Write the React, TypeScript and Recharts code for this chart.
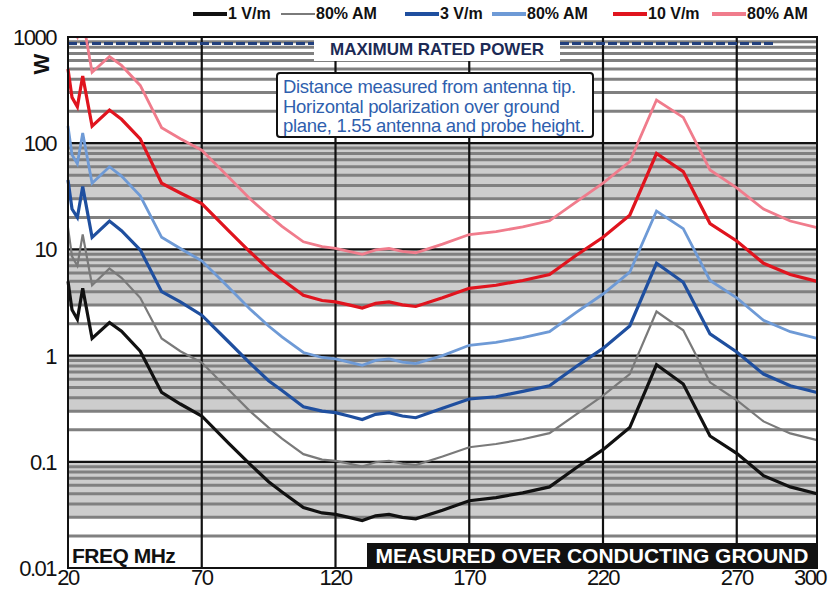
import React from 'react';
import { LineChart, Line, XAxis, YAxis, ReferenceLine, ReferenceArea } from 'recharts';

// frequency points (MHz) shared by all curves
const FREQ = [20, 21.5, 23.5, 25.5, 29, 35.5, 40, 47, 55, 62, 70, 80, 88, 95, 100, 108, 115, 120, 125, 130, 135, 140, 145, 150, 160, 170, 180, 190, 200, 210, 220, 230, 240, 250, 260, 270, 280, 290, 300];

// required power (W) for each field level
const V1 = [5, 2.7, 2.2, 4.3, 1.45, 2.05, 1.7, 1.1, 0.45, 0.35, 0.27, 0.15, 0.095, 0.065, 0.052, 0.037, 0.033, 0.032, 0.03, 0.028, 0.031, 0.032, 0.03, 0.029, 0.035, 0.043, 0.046, 0.051, 0.058, 0.088, 0.13, 0.21, 0.82, 0.54, 0.175, 0.12, 0.074, 0.058, 0.05];
const V1_AM = [16, 8.6, 7, 13.8, 4.6, 6.6, 5.4, 3.5, 1.45, 1.1, 0.86, 0.48, 0.3, 0.21, 0.165, 0.118, 0.105, 0.102, 0.096, 0.09, 0.099, 0.102, 0.096, 0.093, 0.112, 0.137, 0.147, 0.163, 0.186, 0.28, 0.42, 0.67, 2.6, 1.73, 0.56, 0.38, 0.24, 0.185, 0.16];
const V3 = [45, 24, 20, 39, 13, 18.5, 15, 9.9, 4, 3.2, 2.4, 1.35, 0.85, 0.58, 0.47, 0.33, 0.3, 0.29, 0.27, 0.25, 0.28, 0.29, 0.27, 0.26, 0.32, 0.39, 0.41, 0.46, 0.52, 0.79, 1.17, 1.9, 7.4, 4.9, 1.6, 1.08, 0.67, 0.52, 0.45];
const V3_AM = [145, 78, 64, 125, 42, 60, 49, 32, 13, 10.2, 7.8, 4.4, 2.75, 1.9, 1.5, 1.07, 0.96, 0.93, 0.87, 0.81, 0.9, 0.93, 0.87, 0.84, 1.0, 1.25, 1.33, 1.48, 1.68, 2.55, 3.8, 6.1, 23, 15.7, 5.1, 3.5, 2.15, 1.68, 1.45];
const V10 = [500, 270, 220, 430, 145, 205, 168, 110, 42, 34, 27, 15, 9.5, 6.5, 5.2, 3.7, 3.3, 3.2, 3.0, 2.8, 3.1, 3.2, 3.0, 2.9, 3.5, 4.3, 4.6, 5.1, 5.8, 8.8, 13, 21, 80, 54, 17.5, 12, 7.4, 5.8, 5.0];
const V10_AM = [1600, 1200, 1000, 1500, 465, 655, 540, 350, 140, 110, 86, 48, 30, 21, 16.5, 11.8, 10.6, 10.2, 9.6, 9.0, 9.9, 10.2, 9.6, 9.3, 11.2, 13.8, 14.7, 16.3, 18.6, 28, 42, 67, 255, 175, 56, 38, 24, 18.5, 16];

const X_TICKS = [20, 70, 120, 170, 220, 270, 300];
const Y_TICKS = [0.01, 0.1, 1, 10, 100, 1000];
const V_GRID = [70, 120, 170, 220, 270];
const DECADES = [0.01, 0.1, 1, 10, 100];
const MAJOR = [0.1, 1, 10, 100];
const MAX_POWER = 870;

const SERIES = [
  { key: 'v1', name: '1 V/m', color: '#111111', width: 3.2 },
  { key: 'v1am', name: '80% AM', color: '#7a7a7a', width: 2.2 },
  { key: 'v3', name: '3 V/m', color: '#1f4f9f', width: 3.2 },
  { key: 'v3am', name: '80% AM', color: '#6e9ad6', width: 2.8 },
  { key: 'v10', name: '10 V/m', color: '#e0141e', width: 3.2 },
  { key: 'v10am', name: '80% AM', color: '#f07c8c', width: 2.8 },
];
// left edge of each legend swatch
const LEGEND_X = [193, 281, 405, 492, 613, 712];

const data = FREQ.map((f, i) => ({
  f,
  v1: V1[i],
  v1am: V1_AM[i],
  v3: V3[i],
  v3am: V3_AM[i],
  v10: V10[i],
  v10am: V10_AM[i],
}));

const minorLines: number[] = [];
DECADES.forEach((d) => {
  for (let m = 2; m <= 9; m++) minorLines.push(+(d * m).toPrecision(3));
});

const FONT = '"Liberation Sans", Arial, Helvetica, sans-serif';

const XTick = (props: any) => {
  const { x, y, payload } = props;
  const dx = payload.value === 300 ? -7 : 0;
  return (
    <text x={x + dx} y={y + 17} textAnchor="middle" fontFamily={FONT} fontSize={22} fill="#111" style={{ letterSpacing: '-1.5px' }}>
      {payload.value}
    </text>
  );
};

const YTick = (props: any) => {
  const { x, y, payload } = props;
  return (
    <text x={x} y={y + 8} textAnchor="end" fontFamily={FONT} fontSize={22} fill="#111" style={{ letterSpacing: '-1.5px' }}>
      {String(payload.value)}
    </text>
  );
};

export default function App() {
  return (
    <div style={{ position: 'absolute', left: 0, top: 0, width: 836, height: 601, background: '#fff', fontFamily: FONT }}>
      <LineChart width={836} height={601} data={data} margin={{ top: 37, right: 19, bottom: 3, left: 8 }}>
        <XAxis
          dataKey="f"
          type="number"
          domain={[20, 300]}
          ticks={X_TICKS}
          axisLine={false}
          tickLine={false}
          tickSize={0}
          tickMargin={0}
          height={30}
          tick={<XTick />}
          interval={0}
        />
        <YAxis
          type="number"
          scale="log"
          domain={[0.01, 1000]}
          allowDataOverflow
          ticks={Y_TICKS}
          axisLine={false}
          tickLine={false}
          tickSize={0}
          tickMargin={12}
          width={60}
          tick={<YTick />}
          interval={0}
        />
        {DECADES.slice(1).map((d) => (
          <ReferenceArea key={'band' + d} y1={d * 0.3} y2={d} fill="#cdcdcd" fillOpacity={1} stroke="none" />
        ))}
        {minorLines.map((v) => (
          <ReferenceLine key={'m' + v} y={v} stroke="#808080" strokeWidth={3} />
        ))}
        {MAJOR.map((v) => (
          <ReferenceLine key={'M' + v} y={v} stroke="#111" strokeWidth={2.2} />
        ))}
        {V_GRID.map((v) => (
          <ReferenceLine key={'x' + v} x={v} stroke="#111" strokeWidth={2.2} />
        ))}
        <ReferenceLine
          segment={[{ x: 20, y: MAX_POWER }, { x: 284, y: MAX_POWER }]}
          stroke="#22407e"
          strokeWidth={3}
          strokeDasharray="9 3"
        />
        {SERIES.map((s) => (
          <Line
            key={s.key}
            dataKey={s.key}
            name={s.name}
            type="linear"
            stroke={s.color}
            strokeWidth={s.width}
            dot={false}
            isAnimationActive={false}
          />
        ))}
      </LineChart>

      {/* plot frame */}
      <div style={{ position: 'absolute', left: 67, top: 36, width: 751, height: 533, border: '2.5px solid #111', boxSizing: 'border-box', pointerEvents: 'none' }} />

      {/* legend */}
      {SERIES.map((s, i) => (
        <div key={s.key} style={{ position: 'absolute', left: LEGEND_X[i], top: 5, height: 18, display: 'flex', alignItems: 'center', fontWeight: 700, fontSize: 16, color: '#111', whiteSpace: 'nowrap' }}>
          <div style={{ width: 34, height: s.width + 0.5, background: s.color }} />
          <span style={{ marginLeft: 1 }}>{s.name}</span>
        </div>
      ))}

      {/* y axis unit */}
      <div style={{ position: 'absolute', left: 30, top: 52, width: 24, height: 24, transform: 'rotate(-90deg)', fontWeight: 700, fontSize: 22, lineHeight: '24px', textAlign: 'center', color: '#111' }}>
        W
      </div>

      {/* annotations */}
      <div style={{ position: 'absolute', left: 314, top: 38, width: 246, height: 23, background: '#fff', color: '#1c2a55', fontWeight: 700, fontSize: 17, lineHeight: '23px', textAlign: 'center' }}>
        MAXIMUM RATED POWER
      </div>
      <div style={{ position: 'absolute', left: 276, top: 72, width: 318, height: 66, background: '#fff', border: '2.5px solid #111', borderRadius: 4, boxSizing: 'border-box', color: '#2f5fae', fontSize: 18.5, lineHeight: '19.5px', padding: '3px 0 0 5px', whiteSpace: 'nowrap', letterSpacing: '-0.3px' }}>
        <div>Distance measured from antenna tip.</div>
        <div>Horizontal polarization over ground</div>
        <div>plane, 1.55 antenna and probe height.</div>
      </div>
      <div style={{ position: 'absolute', left: 72, top: 545, color: '#111', fontWeight: 700, fontSize: 21, lineHeight: '22px', letterSpacing: '-0.5px' }}>
        FREQ MHz
      </div>
      <div style={{ position: 'absolute', left: 367, top: 543, width: 450, height: 25, background: '#111', color: '#fff', fontWeight: 700, fontSize: 21, lineHeight: '26px', textAlign: 'center', whiteSpace: 'nowrap' }}>
        MEASURED OVER CONDUCTING GROUND
      </div>
    </div>
  );
}
